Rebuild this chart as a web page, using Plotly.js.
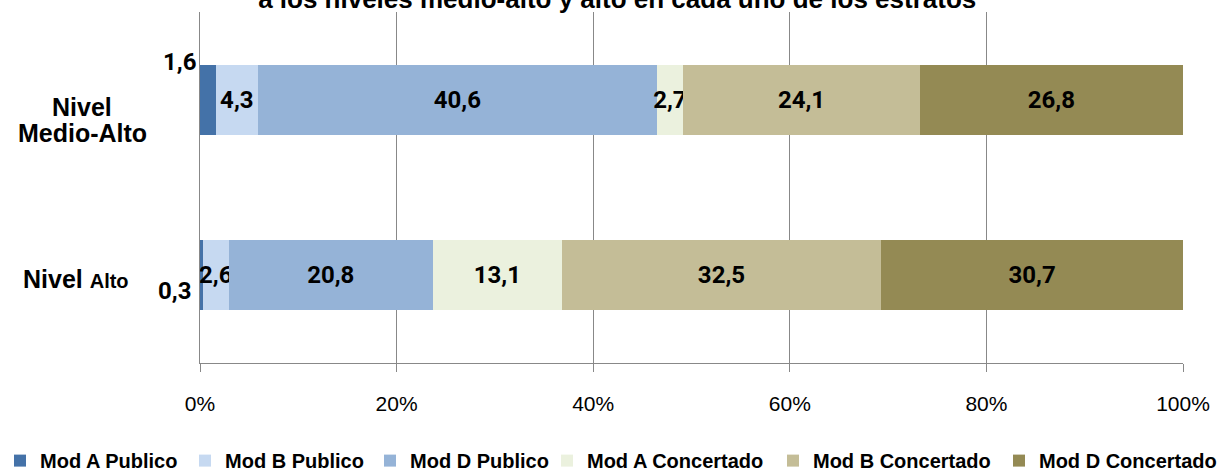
<!DOCTYPE html>
<html>
<head>
<meta charset="utf-8">
<script src="https://cdn.plot.ly/plotly-3.0.1.min.js"></script>
<style>html,body{margin:0;padding:0;background:#fff;}#chart{width:1227px;height:470px;}</style>
</head>
<body>
<div id="chart"></div>
<script>
// Categories (top to bottom)
const categories = ['Nivel Medio-Alto', 'Nivel Alto'];
const categoryLabels = ['Nivel<br>Medio-Alto', 'Nivel <span style="font-size:20px">Alto</span>'];

// Series names
const seriesNames = ['Mod A Publico', 'Mod B Publico', 'Mod D Publico', 'Mod A Concertado', 'Mod B Concertado', 'Mod D Concertado'];

// Values per series [Medio-Alto, Alto]
const modAPublico     = [1.6, 0.3];
const modBPublico     = [4.3, 2.6];
const modDPublico     = [40.6, 20.8];
const modAConcertado  = [2.7, 13.1];
const modBConcertado  = [24.1, 32.5];
const modDConcertado  = [26.8, 30.7];

// X tick values / labels
const tickValues = [0, 20, 40, 60, 80, 100];
const tickLabels = ['0%', '20%', '40%', '60%', '80%', '100%'];

const title = 'a los niveles medio-alto y alto en cada uno de los estratos';

const seriesValues = [modAPublico, modBPublico, modDPublico, modAConcertado, modBConcertado, modDConcertado];
const colors = ['#4472A8', '#C6D9F1', '#95B3D7', '#EBF1DE', '#C4BD97', '#948A54'];
// legend split into two groups so the whole row fits on one line
const legendIds = ['legend', 'legend', 'legend', 'legend2', 'legend2', 'legend2'];
const legendWidths = [140, 140, 146, 181, 181, 188];

const fmt = v => v.toFixed(1).replace('.', ',');
const labelFont = {family: 'Roboto, Arial, sans-serif', size: 24, color: '#000', weight: 700};

const traces = seriesValues.map((vals, i) => ({
  type: 'bar',
  orientation: 'h',
  name: seriesNames[i],
  y: categories,
  x: vals,
  // the first series' labels are drawn outside the bars as annotations
  text: vals.map(v => i === 0 ? '' : '<b>' + fmt(v) + '</b>'),
  textposition: 'inside',
  insidetextanchor: 'middle',
  textangle: 0,
  constraintext: 'none',
  textfont: labelFont,
  insidetextfont: labelFont,
  legend: legendIds[i],
  legendwidth: legendWidths[i],
  marker: {color: colors[i], line: {width: 0}},
  hoverinfo: 'name+x'
}));

const annotations = [];
// outside labels for Mod A Publico
const outShifts = [{xs: -2, ys: 38}, {xs: -7, ys: -16}];
modAPublico.forEach((v, j) => {
  annotations.push({
    xref: 'x', yref: 'y', x: 0, y: categories[j],
    text: '<b>' + fmt(v) + '</b>', showarrow: false,
    xanchor: 'right', yanchor: 'middle',
    xshift: outShifts[j].xs, yshift: outShifts[j].ys,
    font: labelFont
  });
});
// category labels (one annotation per line for tight line spacing)
const catPos = [{x: -0.12, ys: -20}, {x: -0.126, ys: -4}];
const lineGap = 26;
categoryLabels.forEach((lab, j) => {
  const lines = lab.split('<br>');
  lines.forEach((ln, k) => {
    const off = (k - (lines.length - 1) / 2) * lineGap;
    annotations.push({
      xref: 'paper', yref: 'y', x: catPos[j].x, y: categories[j],
      text: '<b>' + ln + '</b>', showarrow: false,
      xanchor: 'center', yanchor: 'middle', align: 'center',
      yshift: catPos[j].ys - off,
      font: {family: 'Arial, Liberation Sans, sans-serif', size: 25, color: '#000'}
    });
  });
});

const legendFont = {family: 'Arial, Liberation Sans, sans-serif', size: 20, color: '#000', weight: 700};
const legendBase = {
  orientation: 'h',
  xref: 'container', yref: 'container',
  y: 0.02, xanchor: 'left', yanchor: 'middle',
  traceorder: 'normal',
  font: legendFont,
  itemwidth: 30,
  bgcolor: 'rgba(0,0,0,0)',
  itemclick: false, itemdoubleclick: false
};

const layout = {
  width: 1227, height: 470,
  margin: {l: 200, r: 44, t: 12, b: 107},
  paper_bgcolor: '#fff', plot_bgcolor: '#fff',
  barmode: 'stack',
  barnorm: 'percent',
  bargap: 0.6,
  showlegend: true,
  title: {
    text: '<b>' + title + '</b>',
    font: {family: 'Arial, Liberation Sans, sans-serif', size: 26, color: '#000'},
    xref: 'container', yref: 'paper', x: 0.503, y: 1,
    xanchor: 'center', yanchor: 'bottom',
    pad: {t: 0, b: 4, l: 0, r: 0}
  },
  xaxis: {
    range: [0, 100],
    tickvals: tickValues, ticktext: tickLabels,
    showgrid: true, gridcolor: '#888888', gridwidth: 1,
    showline: true, linecolor: '#888888', linewidth: 1,
    ticks: 'outside', ticklen: 8, tickcolor: '#888888',
    ticklabelstandoff: 14,
    tickfont: {family: 'Arial, Liberation Sans, sans-serif', size: 21, color: '#000'},
    zeroline: false, fixedrange: true
  },
  yaxis: {
    type: 'category',
    autorange: 'reversed',
    showticklabels: false,
    showgrid: false, zeroline: false,
    showline: true, linecolor: '#888888', linewidth: 1,
    ticks: '', fixedrange: true
  },
  legend: Object.assign({}, legendBase, {x: 0}),
  legend2: Object.assign({}, legendBase, {x: 0.4458}),
  annotations: annotations
};

Plotly.newPlot('chart', traces, layout, {displayModeBar: false, staticPlot: true});
</script>
</body>
</html>
